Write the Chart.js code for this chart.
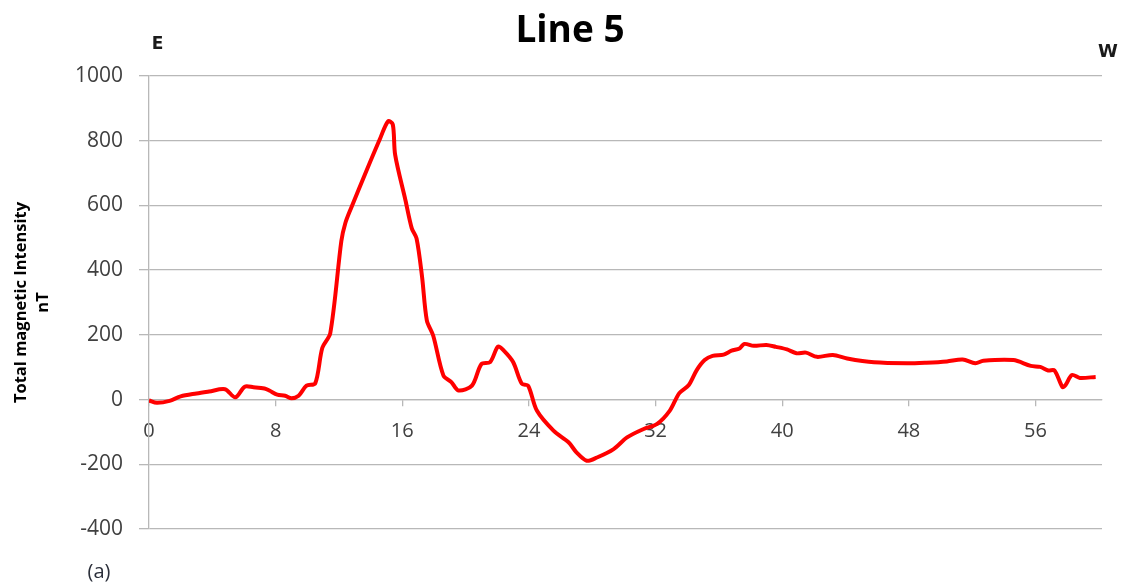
<!DOCTYPE html>
<html>
<head>
<meta charset="utf-8">
<title>Line 5</title>
<script src="https://cdn.jsdelivr.net/npm/chart.js@4"></script>
<style>
  html, body { margin: 0; padding: 0; background: #ffffff; }
  #wrap { position: relative; width: 1125px; height: 588px; }
</style>
</head>
<body>
<div id="wrap"><canvas id="chart"></canvas></div>
<script>
// Distance along the profile line and total magnetic intensity (nT)
const distance = [
  0, 0.5, 1.3, 2.0, 3.0, 3.8, 4.8, 5.45, 6.05, 6.6, 7.3, 7.6, 8.1, 8.6, 9.0, 9.45,
  9.95, 10.5, 10.95, 11.45, 12.15, 12.4, 12.75, 13.75, 14.6, 15.1, 15.4, 15.55,
  16.2, 16.6, 16.9, 17.25, 17.55, 17.95, 18.6, 19.1, 19.55, 20.4, 21.0, 21.55,
  22.05, 22.4, 23.0, 23.55, 23.95, 24.5, 25.55, 26.5, 27.0, 27.65, 28.3, 29.35,
  30.2, 31.25, 32.1, 32.9, 33.5, 34.1, 34.6, 35.1, 35.6, 36.3, 36.8, 37.3, 37.6,
  38.2, 39.0, 39.6, 40.3, 40.9, 41.5, 42.2, 43.2, 44.1, 45.8, 47.9, 49.1, 50.4,
  51.4, 52.2, 52.7, 54.6, 55.7, 56.3, 56.8, 57.2, 57.7, 57.9, 58.3, 58.8, 59.8
];
const intensity = [
  -3, -10, -4, 10, 19, 25, 32, 7, 40, 38, 34, 28, 15, 12, 4, 12,
  43, 50, 160, 205, 490, 545, 590, 709, 807, 860, 850, 756,
  616, 529, 498, 379, 245, 198, 74, 54, 28, 43, 110, 116,
  164, 152, 116, 49, 43, -34, -96, -132, -163, -189, -179, -153,
  -117, -91, -75, -34, 20, 45, 91, 122, 135, 139, 151, 158, 172,
  166, 169, 163, 155, 143, 145, 132, 138, 127, 115, 112, 114, 118,
  124, 112, 120, 122, 104, 101, 90, 90, 39, 45, 76, 67, 70
];
const xTickValues = [0, 8, 16, 24, 32, 40, 48, 56];
const yTickValues = [-400, -200, 0, 200, 400, 600, 800, 1000];

const points = distance.map((d, i) => ({ x: d, y: intensity[i] }));

// Chart heading, direction markers and panel letter
const headerLabels = {
  id: 'headerLabels',
  afterDraw(chart) {
    const ctx = chart.ctx;
    ctx.save();
    ctx.textAlign = 'center';
    ctx.textBaseline = 'middle';
    ctx.fillStyle = '#000000';
    ctx.font = 'bold 37px "Open Sans"';
    ctx.fillText('Line 5', 570, 31);
    ctx.fillStyle = '#1a1a1a';
    ctx.font = 'bold 17px "DejaVu Sans"';
    ctx.fillText('E', 157.5, 45);
    ctx.font = 'bold 18px "DejaVu Sans"';
    ctx.fillText('W', 1108, 52);
    ctx.font = '20px "Open Sans"';
    ctx.fillStyle = '#2b2f3a';
    ctx.fillText('(a)', 99, 572);
    ctx.restore();
  }
};

new Chart(document.getElementById('chart'), {
  type: 'line',
  data: {
    datasets: [{
      data: points,
      borderColor: '#ff0000',
      borderWidth: 4,
      pointRadius: 0,
      tension: 0.3,
      fill: false
    }]
  },
  options: {
    responsive: true,
    maintainAspectRatio: false,
    animation: false,
    layout: { padding: { left: 0, right: 23, top: 76, bottom: 59 } },
    plugins: {
      legend: { display: false },
      tooltip: { enabled: false },
      title: { display: false }
    },
    scales: {
      x: {
        type: 'linear',
        position: { y: 0 },
        min: 0,
        max: 60.2,
        afterBuildTicks: (scale) => { scale.ticks = xTickValues.map(v => ({ value: v })); },
        grid: { drawOnChartArea: false, drawTicks: true, tickLength: 6, color: '#b8b8b8', lineWidth: 1.3 },
        border: { display: true, color: '#b8b8b8', width: 1.3 },
        ticks: {
          color: '#404040',
          font: { family: '"Open Sans"', size: 20 },
          padding: 14,
          maxRotation: 0,
          autoSkip: false,
          callback: (v) => String(v)
        }
      },
      y: {
        type: 'linear',
        position: 'left',
        min: -400,
        max: 1000,
        afterBuildTicks: (scale) => { scale.ticks = yTickValues.map(v => ({ value: v })); },
        afterFit: (scale) => { scale.width = 149; },
        grid: { color: '#b8b8b8', lineWidth: 1.3, tickLength: 10 },
        border: { display: true, color: '#b8b8b8', width: 1.3 },
        ticks: {
          color: '#404040',
          font: { family: '"Open Sans"', size: 21 },
          padding: 16,
          callback: (v) => String(v)
        },
        title: {
          display: true,
          text: ['Total magnetic Intensity', 'nT'],
          color: '#000000',
          font: { family: '"Open Sans"', size: 16.5, weight: 'bold', lineHeight: 1.3 },
          padding: { top: 11, bottom: 0 }
        }
      }
    }
  },
  plugins: [headerLabels]
});
</script>
</body>
</html>
